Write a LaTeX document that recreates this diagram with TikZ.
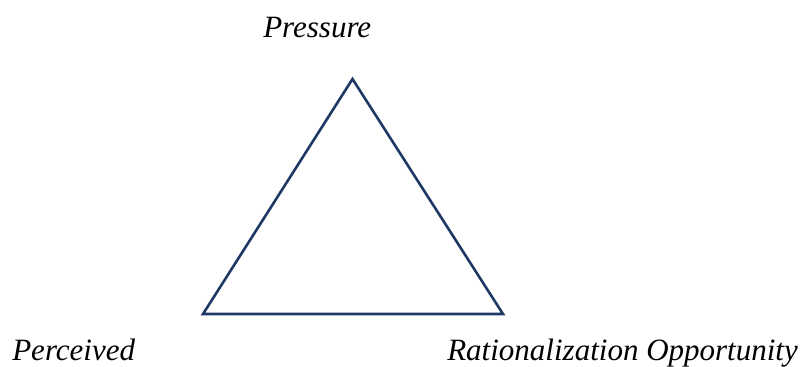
\documentclass[tikz,border=0pt]{standalone}
\usepackage{fontspec}
\setmainfont{Liberation Serif}
\definecolor{trinavy}{RGB}{31,56,100}

\begin{document}
\begin{tikzpicture}[x=1pt,y=-1pt,line width=2.6pt,
  lbl/.style={inner sep=0pt,anchor=base west,font=\fontsize{31}{37}\selectfont\itshape}]
  \useasboundingbox (0,0) rectangle (807,367);
  \coordinate (A) at (352.5,79);
  \coordinate (L) at (203,314);
  \coordinate (R) at (503,314);
  \draw[trinavy,line join=miter] (A) -- (R) -- (L) -- cycle;
  \node[lbl] (press) at (262,37) {Pressure};
  \node[lbl] (perc) at (11,360) {Perceived};
  \node[lbl] (ratop) at (446,360) {Rationalization Opportunity};
\end{tikzpicture}
\end{document}
